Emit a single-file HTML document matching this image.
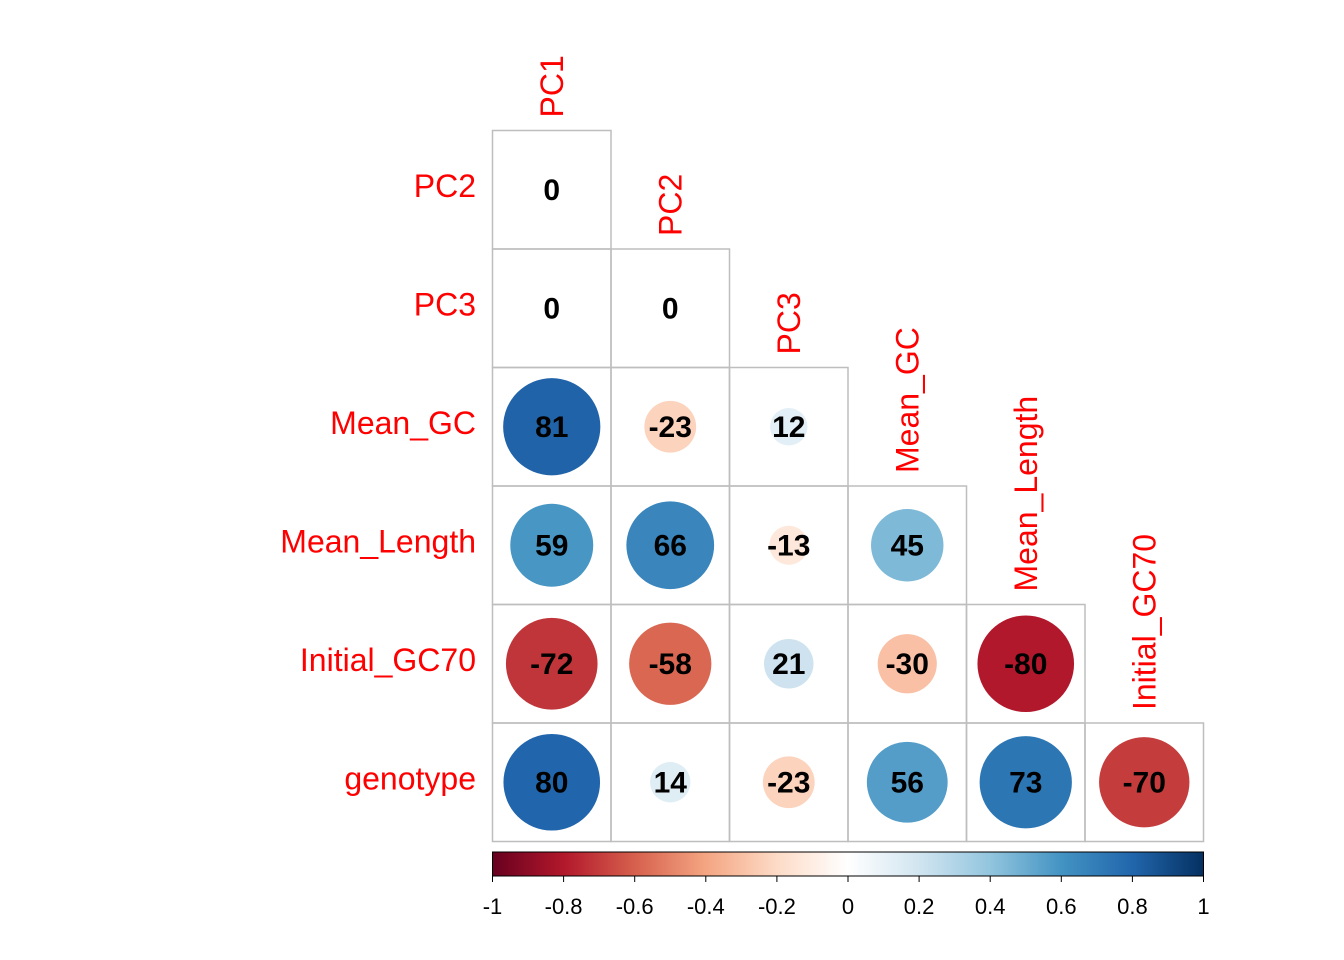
<!DOCTYPE html>
<html><head><meta charset="utf-8"><style>
html,body{margin:0;padding:0;background:#fff;}
svg{display:block;font-family:"Liberation Sans",Arial,sans-serif;}
</style></head><body>
<svg id="chart" width="1344" height="960" viewBox="0 0 1344 960" xmlns="http://www.w3.org/2000/svg"></svg>
<script>
const variables = ["PC1","PC2","PC3","Mean_GC","Mean_Length","Initial_GC70","genotype"];
// lower-triangle correlations (x100), row i+1 vs columns 0..i
const row_PC2 = [0];
const row_PC3 = [0, 0];
const row_MeanGC = [81, -23, 12];
const row_MeanLength = [59, 66, -13, 45];
const row_InitialGC70 = [-72, -58, 21, -30, -80];
const row_genotype = [80, 14, -23, 56, 73, -70];
const rows = [row_PC2,row_PC3,row_MeanGC,row_MeanLength,row_InitialGC70,row_genotype];
const colorbarTicks = [-1,-0.8,-0.6,-0.4,-0.2,0,0.2,0.4,0.6,0.8,1];

const NS="http://www.w3.org/2000/svg";
const svg=document.getElementById('chart');
const x0=492.5, y0=130.5, cw=118.5, maxR=54;
const cbX0=492.5, cbX1=1203.5, cbY=852, cbH=24;
const pal=["#67001F","#B2182B","#D6604D","#F4A582","#FDDBC7","#FFFFFF","#D1E5F0","#92C5DE","#4393C3","#2166AC","#053061"];
function hex(h){return [1,3,5].map(i=>parseInt(h.substr(i,2),16));}
function colorOf(v){
  const t=(v+1)/2*(pal.length-1); const i=Math.min(pal.length-2,Math.floor(t)); const f=t-i;
  const a=hex(pal[i]), b=hex(pal[i+1]);
  return 'rgb('+a.map((c,k)=>Math.round(c+(b[k]-c)*f)).join(',')+')';
}
function el(tag,attrs){const e=document.createElementNS(NS,tag);for(const k in attrs)e.setAttribute(k,attrs[k]);return e;}
const xs=c=>x0+c*cw, ys=r=>y0+r*cw;

rows.forEach((vals,r)=>{
  const lab=el('text',{x:476,y:ys(r)+cw/2+7,'text-anchor':'end','font-size':32,fill:'#FF0000'});
  lab.textContent=variables[r+1];
  
  
  svg.appendChild(lab);
  vals.forEach((v,c)=>{
    const rect=el('rect',{x:xs(c),y:ys(r),width:cw,height:cw,fill:'none',stroke:'#BEBEBE','stroke-width':1.5});
    
    
    svg.appendChild(rect);
    const cx=xs(c)+cw/2, cy=ys(r)+cw/2;
    if(v!==0){
      const circ=el('circle',{cx:cx,cy:cy,r:Math.sqrt(Math.abs(v)/100)*maxR,fill:colorOf(v/100)});
      
      
      svg.appendChild(circ);
    }
    const t=el('text',{x:cx,y:cy+10,'text-anchor':'middle','font-size':30,'font-weight':'bold',fill:'#000'});
    t.textContent=String(v);
    
    
    svg.appendChild(t);
  });
});
variables.slice(0,6).forEach((name,c)=>{
  const cx=xs(c)+cw/2+11, by=ys(c)-13;
  const t=el('text',{x:cx,y:by,'font-size':32,fill:'#FF0000',transform:'rotate(-90 '+cx+' '+by+')'});
  t.textContent=name;
  
  
  svg.appendChild(t);
});
const defs=el('defs',{});const g=el('linearGradient',{id:'cbg',x1:0,x2:1,y1:0,y2:0});
pal.forEach((p,i)=>g.appendChild(el('stop',{offset:i/(pal.length-1),'stop-color':p})));
defs.appendChild(g);svg.appendChild(defs);
const cb=el('rect',{x:cbX0,y:cbY,width:cbX1-cbX0,height:cbH,fill:'url(#cbg)',stroke:'#000','stroke-width':1});


svg.appendChild(cb);
colorbarTicks.forEach(v=>{
  const x=cbX0+(v+1)/2*(cbX1-cbX0);
  const tk=el('line',{x1:x,x2:x,y1:cbY+cbH,y2:cbY+cbH+6,stroke:'#000','stroke-width':1});
  
  
  svg.appendChild(tk);
  const tl=el('text',{x:x,y:914,'text-anchor':'middle','font-size':22,fill:'#000'});
  tl.textContent=String(v);
  
  
  svg.appendChild(tl);
});
</script>
</body></html>
